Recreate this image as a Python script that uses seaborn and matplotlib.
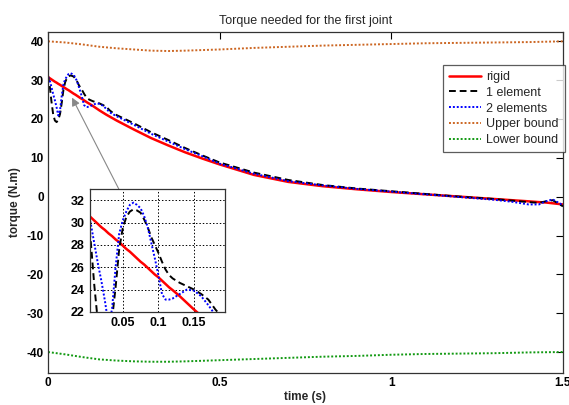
import matplotlib
matplotlib.use("Agg")
import matplotlib.pyplot as plt
import seaborn as sns
import numpy as np

# ---- data ----
t = [0, 0.005, 0.01, 0.015, 0.02, 0.025, 0.03, 0.035, 0.04, 0.045, 0.05, 0.055, 0.06,
     0.065, 0.07, 0.075, 0.08, 0.085, 0.09, 0.095, 0.1, 0.105, 0.11, 0.115, 0.12, 0.13,
     0.14, 0.15, 0.16, 0.17, 0.18, 0.19, 0.2, 0.25, 0.3, 0.35, 0.4, 0.45, 0.5, 0.6, 0.7,
     0.8, 0.9, 1.0, 1.1, 1.2, 1.3, 1.35, 1.4, 1.43, 1.45, 1.47, 1.5]

rigid = [30.8, 30.5, 30.2, 29.9, 29.6, 29.35, 29.05, 28.8, 28.5, 28.25, 27.95, 27.65, 27.4,
         27.1, 26.8, 26.5, 26.25, 25.95, 25.65, 25.35, 25.1, 24.8, 24.5, 24.2, 23.95, 23.4,
         22.8, 22.2, 21.65, 21.1, 20.6, 20.1, 19.6, 17.3, 15.1, 13.2, 11.4, 9.8, 8.3, 5.6, 3.8,
         2.7, 1.9, 1.2, 0.6, 0.0, -0.6, -0.9, -1.2, -1.4, -1.5, -1.7, -2.0]

one_element = [31.2, 28.5, 24.5, 21.2, 19.6, 19.2, 19.8, 21.3, 24.2, 27.6, 29.5, 30.5, 31.0,
               31.2, 31.1, 30.9, 30.3, 29.6, 28.7, 28.0, 27.3, 26.5, 25.8, 25.3, 25.0, 24.6,
               24.3, 24.0, 23.6, 23.1, 22.2, 21.5, 21.0, 18.9, 16.6, 14.6, 12.5, 10.6, 8.8, 6.2,
               4.3, 3.0, 2.1, 1.4, 0.7, 0.0, -0.6, -1.0, -1.4, -1.6, -1.2, -0.9, -2.5]

two_elements = [30.8, 30.0, 28.2, 26.4, 24.8, 23.0, 20.9, 22.2, 26.0, 29.0, 30.2, 31.0, 31.6,
                31.8, 31.6, 31.3, 30.6, 29.6, 28.2, 26.8, 25.3, 23.6, 23.1, 23.1, 23.2, 23.6,
                24.0, 23.9, 23.4, 22.6, 21.7, 21.2, 20.7, 18.5, 16.2, 14.2, 12.2, 10.4, 8.5, 5.9,
                4.0, 2.9, 2.0, 1.3, 0.6, -0.1, -0.8, -1.3, -2.0, -2.0, -1.2, -0.7, -2.2]

t_bound = [0, 0.05, 0.1, 0.15, 0.2, 0.25, 0.3, 0.35, 0.4, 0.5, 0.6, 0.7, 0.8, 0.9, 1.0,
           1.1, 1.2, 1.3, 1.4, 1.5]
upper = [40.0, 39.7, 39.2, 38.6, 38.2, 37.9, 37.6, 37.5, 37.6, 37.9, 38.3, 38.6, 38.9, 39.1,
         39.3, 39.5, 39.6, 39.7, 39.8, 40.0]
lower = [-40.0, -40.6, -41.3, -41.9, -42.2, -42.4, -42.5, -42.5, -42.4, -42.1, -41.8, -41.5,
         -41.2, -41.0, -40.7, -40.5, -40.4, -40.3, -40.1, -40.0]

x_ticks = [0, 0.5, 1, 1.5]
x_ticklabels = ["0", "0.5", "1", "1.5"]
y_ticks = [-40, -30, -20, -10, 0, 10, 20, 30, 40]
in_x_ticks = [0.05, 0.1, 0.15]
in_x_ticklabels = ["0.05", "0.1", "0.15"]
in_y_ticks = [22, 24, 26, 28, 30, 32]

# ---- style ----
sns.set_theme(style="white")
plt.rcParams["font.family"] = ["Liberation Sans", "DejaVu Sans"]
plt.rcParams["axes.unicode_minus"] = False

fig = plt.figure(figsize=(5.69, 4.05), dpi=100)
ax = fig.add_axes([0.0844, 0.079, 0.905, 0.842])

RED = "#ff0000"
BLACK = "#000000"
BLUE = "#0000ff"
ORANGE = "#cc6622"
GREEN = "#119911"

def draw(a, legend=True):
    sns.lineplot(x=t, y=rigid, ax=a, color=RED, lw=1.8, linestyle="-",
                 label="rigid" if legend else None, legend=False)
    sns.lineplot(x=t, y=one_element, ax=a, color=BLACK, lw=1.4, linestyle=(0, (3.5, 2)),
                 label="1 element" if legend else None, legend=False)
    sns.lineplot(x=t, y=two_elements, ax=a, color=BLUE, lw=1.4, linestyle=(0, (1, 1)),
                 label="2 elements" if legend else None, legend=False)
    sns.lineplot(x=t_bound, y=upper, ax=a, color=ORANGE, lw=1.4, linestyle=(0, (1, 1)),
                 label="Upper bound" if legend else None, legend=False)
    sns.lineplot(x=t_bound, y=lower, ax=a, color=GREEN, lw=1.4, linestyle=(0, (1, 1)),
                 label="Lower bound" if legend else None, legend=False)

draw(ax)
ax.set_xlim(0, 1.5)
ax.set_ylim(-45.4, 42.4)
ax.set_xticks(x_ticks)
ax.set_xticklabels(x_ticklabels)
ax.set_yticks(y_ticks)
ax.tick_params(direction="in", length=5, width=0.8, top=True, right=True,
               labelsize=8.5, pad=3, colors="black")
for lab in ax.get_xticklabels() + ax.get_yticklabels():
    lab.set_fontweight("bold")
for s in ax.spines.values():
    s.set_color("#333333")
    s.set_linewidth(0.9)
ax.set_xlabel("time (s)", fontsize=8.5, fontweight="bold", labelpad=1)
ax.set_ylabel("torque (N.m)", fontsize=8.5, fontweight="bold", labelpad=4)
ax.set_title("Torque needed for the first joint", fontsize=9, pad=6)

leg = ax.legend(loc="upper right", bbox_to_anchor=(0.993, 0.84),
                bbox_transform=fig.transFigure, prop={"size": 9}, frameon=True,
                fancybox=False, handlelength=2.6, handletextpad=0.4,
                borderpad=0.5, labelspacing=0.3, borderaxespad=0)
leg.get_frame().set_edgecolor("#333333")
leg.get_frame().set_linewidth(0.9)

# arrow from inset to zoomed region
ax.annotate("", xy=(0.07, 25.5), xytext=(0.206, 2.0),
            arrowprops=dict(arrowstyle="-|>", color="#888888", lw=0.8,
                            mutation_scale=12, shrinkA=0, shrinkB=0))

# ---- inset ----
ins = fig.add_axes([0.158, 0.230, 0.237, 0.304])
draw(ins, legend=False)
ins.set_xlim(0.004, 0.193)
ins.set_ylim(22, 33.05)
ins.set_xticks(in_x_ticks)
ins.set_xticklabels(in_x_ticklabels)
ins.set_yticks(in_y_ticks)
ins.grid(True, color="black", linestyle=(0, (1.5, 2)), linewidth=0.7)
ins.tick_params(direction="in", length=3, labelsize=9, pad=4, colors="black")
for lab in ins.get_xticklabels() + ins.get_yticklabels():
    lab.set_fontweight("bold")
for s in ins.spines.values():
    s.set_color("#333333")
    s.set_linewidth(0.9)
ins.set_facecolor("white")

fig.savefig("out.png", dpi=100)
